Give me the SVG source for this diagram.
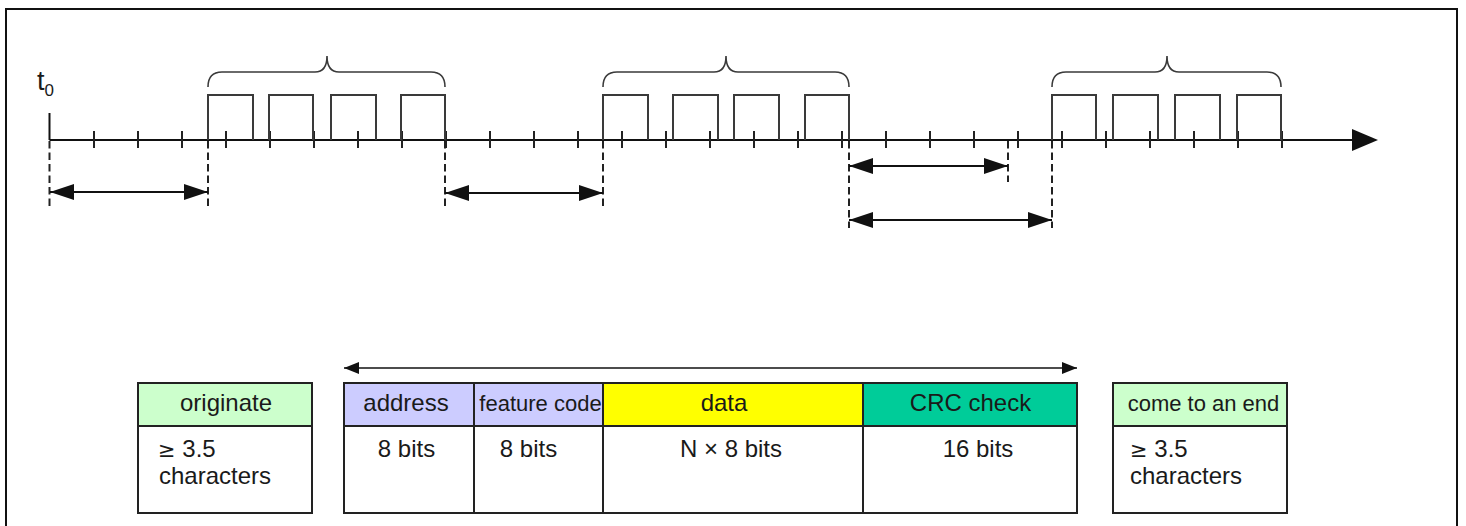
<svg xmlns="http://www.w3.org/2000/svg" width="1466" height="526" viewBox="0 0 1466 526">
  <defs>
    <style>
      .frame { fill: #ffffff; stroke: #111; stroke-width: 2; }
      .axis { stroke: #111; stroke-width: 2; fill: none; }
      .tick { stroke: #222; stroke-width: 2; }
      .pulse { stroke: #3a3a3a; stroke-width: 2; fill: none; }
      .brace { stroke: #3a3a3a; stroke-width: 1.6; fill: none; }
      .guide { stroke: #222; stroke-width: 2; stroke-dasharray: 7.5 4; fill: none; }
      .span { stroke: #111; stroke-width: 2; fill: none; }
      .cell { stroke: #222; stroke-width: 2; }
      .lbl { font-family: "Liberation Sans", Arial, sans-serif; font-size: 24px; fill: #1a1a1a; }
      .mid { text-anchor: middle; }
      .narrow { font-size: 22px; }
      .ge { font-family: "DejaVu Sans", "Liberation Sans", sans-serif; font-size: 21px; }
    </style>
    <marker id="ah" viewBox="0 0 24 16" refX="24" refY="8" markerWidth="24" markerHeight="16" markerUnits="userSpaceOnUse" orient="auto-start-reverse">
      <path d="M0,0 L24,8 L0,16 Z" fill="#111"/>
    </marker>
    <marker id="ahs" viewBox="0 0 15 12" refX="15" refY="6" markerWidth="15" markerHeight="12" markerUnits="userSpaceOnUse" orient="auto-start-reverse">
      <path d="M0,0 L15,6 L0,12 Z" fill="#111"/>
    </marker>
  </defs>

  <!-- outer frame -->
  <rect class="frame" x="6" y="9" width="1451" height="530"/>

  <!-- time axis -->
  <g id="time-axis">
    <line class="axis" x1="49.5" y1="140" x2="1356" y2="140"/>
    <path d="M1352,129 L1378,140 L1352,151 Z" fill="#111"/>
    <line class="axis" x1="49.5" y1="113" x2="49.5" y2="140"/>
    <text class="lbl" x="37" y="90" style="font-size:27px">t<tspan dy="6" style="font-size:17px">0</tspan></text>
    <g id="ticks">
      <path class="tick" d="M94,131V148 M138,131V148 M182,131V148 M226,131V148 M270,131V148 M314,131V148 M358,131V148 M402,131V148 M446,131V148 M490,131V148 M534,131V148 M578,131V148 M622,131V148 M666,131V148 M710,131V148 M754,131V148 M798,131V148 M842,131V148 M886,131V148 M930,131V148 M974,131V148 M1018,131V148 M1062,131V148 M1106,131V148 M1150,131V148 M1194,131V148 M1238,131V148 M1282,131V148"/>
    </g>
  </g>

  <!-- character frames: four pulses under a brace -->
  <g id="frame-1">
    <path class="pulse" d="M208,140V95H253V140 M269,140V95H313V140 M331,140V95H376V140 M401,140V95H445V140"/>
    <path class="brace" d="M208,87 C208,78 212,72 222,72 H315 C323,72 327,66 327,56 C327,66 331,72 339,72 H431 C441,72 445,78 445,87"/>
  </g>
  <g id="frame-2">
    <path class="pulse" d="M603,140V95H648V140 M673,140V95H718V140 M734,140V95H779V140 M805,140V95H849V140"/>
    <path class="brace" d="M603,87 C603,78 607,72 617,72 H714 C722,72 726,66 726,56 C726,66 730,72 738,72 H835 C845,72 849,78 849,87"/>
  </g>
  <g id="frame-3">
    <path class="pulse" d="M1052,140V95H1096V140 M1113,140V95H1158V140 M1175,140V95H1220V140 M1237,140V95H1281V140"/>
    <path class="brace" d="M1052,87 C1052,78 1056,72 1066,72 H1155 C1163,72 1167,66 1167,56 C1167,66 1171,72 1179,72 H1267 C1277,72 1281,78 1281,87"/>
  </g>

  <!-- dashed guides below the axis -->
  <g id="guides">
    <line class="guide" x1="49.5" y1="141" x2="49.5" y2="210"/>
    <line class="guide" x1="208" y1="141" x2="208" y2="210"/>
    <line class="guide" x1="445" y1="141" x2="445" y2="210"/>
    <line class="guide" x1="603" y1="141" x2="603" y2="210"/>
    <line class="guide" x1="849" y1="141" x2="849" y2="228"/>
    <line class="guide" x1="1008" y1="141" x2="1008" y2="182"/>
    <line class="guide" x1="1052" y1="141" x2="1052" y2="228"/>
  </g>

  <!-- interval arrows -->
  <g id="connectors">
    <line class="span" x1="50" y1="192" x2="208" y2="192" marker-start="url(#ah)" marker-end="url(#ah)"/>
    <line class="span" x1="445" y1="193" x2="603" y2="193" marker-start="url(#ah)" marker-end="url(#ah)"/>
    <line class="span" x1="849" y1="166" x2="1008" y2="166" marker-start="url(#ah)" marker-end="url(#ah)"/>
    <line class="span" x1="849" y1="220" x2="1052" y2="220" marker-start="url(#ah)" marker-end="url(#ah)"/>
    <line class="span" x1="344" y1="368" x2="1077" y2="368" style="stroke-width:1.6" marker-start="url(#ahs)" marker-end="url(#ahs)"/>
  </g>

  <!-- message layout table -->
  <g id="originate">
    <rect class="cell" x="138" y="383" width="174" height="43" fill="#ccffcc"/>
    <rect class="cell" x="138" y="426" width="174" height="87" fill="#ffffff"/>
    <text class="lbl mid" x="226" y="411">originate</text>
    <text class="lbl" x="158" y="457"><tspan class="ge">≥</tspan> 3.5</text>
    <text class="lbl" x="159" y="484">characters</text>
  </g>

  <g id="address">
    <rect class="cell" x="344" y="383" width="130" height="43" fill="#ccccff"/>
    <rect class="cell" x="344" y="426" width="130" height="87" fill="#ffffff"/>
    <text class="lbl mid" x="406" y="411">address</text>
    <text class="lbl mid" x="406.5" y="457">8 bits</text>
  </g>

  <g id="feature-code">
    <rect class="cell" x="474" y="383" width="129" height="43" fill="#ccccff"/>
    <rect class="cell" x="474" y="426" width="129" height="87" fill="#ffffff"/>
    <text class="lbl mid narrow" x="540.5" y="411">feature code</text>
    <text class="lbl mid" x="528.5" y="457">8 bits</text>
  </g>

  <g id="data">
    <rect class="cell" x="603" y="383" width="260" height="43" fill="#ffff00"/>
    <rect class="cell" x="603" y="426" width="260" height="87" fill="#ffffff"/>
    <text class="lbl mid" x="724" y="411">data</text>
    <text class="lbl mid" x="731" y="457">N × 8 bits</text>
  </g>

  <g id="crc-check">
    <rect class="cell" x="863" y="383" width="214" height="43" fill="#00cc99"/>
    <rect class="cell" x="863" y="426" width="214" height="87" fill="#ffffff"/>
    <text class="lbl mid" x="970.5" y="411">CRC check</text>
    <text class="lbl mid" x="978" y="457">16 bits</text>
  </g>

  <g id="come-to-an-end">
    <rect class="cell" x="1113" y="383" width="174" height="43" fill="#ccffcc"/>
    <rect class="cell" x="1113" y="426" width="174" height="87" fill="#ffffff"/>
    <text class="lbl mid narrow" x="1203.5" y="411">come to an end</text>
    <text class="lbl" x="1130" y="457"><tspan class="ge">≥</tspan> 3.5</text>
    <text class="lbl" x="1130" y="484">characters</text>
  </g>
</svg>
